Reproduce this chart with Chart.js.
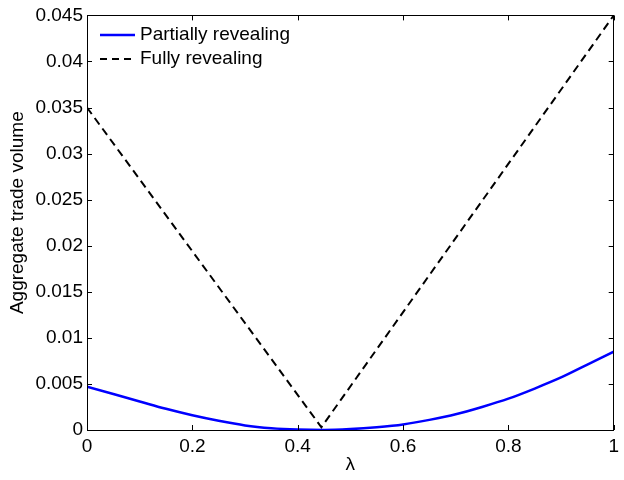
<!DOCTYPE html>
<html>
<head>
<meta charset="utf-8">
<script src="https://cdn.jsdelivr.net/npm/chart.js@4"></script>
<style>
  html, body { margin: 0; padding: 0; background: #fff; }
  #wrap { width: 624px; height: 480px; }
</style>
</head>
<body>
<div id="wrap"><canvas id="chart" width="624" height="480"></canvas></div>
<script>
// Data
const partialX = [0, 0.05, 0.1, 0.15, 0.2, 0.25, 0.3, 0.35, 0.4, 0.45, 0.5, 0.55, 0.6, 0.65, 0.7, 0.75, 0.8, 0.85, 0.9, 0.95, 1];
const partialY = [0.0047, 0.0039, 0.0031, 0.0023, 0.0016, 0.0010, 0.0005, 0.0002, 0.00005, 0, 0.0001, 0.0003, 0.0006, 0.0011, 0.0017, 0.0025, 0.0034, 0.0045, 0.0057, 0.0071, 0.0085];
const fullX = [0, 0.445, 1];
const fullY = [0.035, 0.0003, 0.045];
const seriesLabels = ['Partially revealing', 'Fully revealing'];
const xTicks = [0, 0.2, 0.4, 0.6, 0.8, 1];
const yTicks = [0, 0.005, 0.01, 0.015, 0.02, 0.025, 0.03, 0.035, 0.04, 0.045];
const xTitle = 'λ';
const yTitle = 'Aggregate trade volume';

const FONT = 'Liberation Sans, Arial, Helvetica, sans-serif';

function toPoints(xs, ys) {
    return xs.map((x, i) => ({ x: x, y: ys[i] }));
}

// Box, inward ticks on all four sides, y title and an in-plot legend (MATLAB style)
const matlabAxes = {
    id: 'matlabAxes',
    afterDraw(chart) {
        const { ctx, chartArea: a, scales } = chart;
        const len = 5;
        ctx.save();
        ctx.strokeStyle = '#000';
        ctx.lineWidth = 1;
        ctx.beginPath();
        xTicks.forEach(v => {
            const px = Math.round(scales.x.getPixelForValue(v)) + 0.5;
            ctx.moveTo(px, a.bottom); ctx.lineTo(px, a.bottom - len);
            ctx.moveTo(px, a.top); ctx.lineTo(px, a.top + len);
        });
        yTicks.forEach(v => {
            const py = Math.round(scales.y.getPixelForValue(v)) + 0.5;
            ctx.moveTo(a.left, py); ctx.lineTo(a.left + len, py);
            ctx.moveTo(a.right, py); ctx.lineTo(a.right - len, py);
        });
        ctx.stroke();
        ctx.strokeRect(Math.round(a.left) + 0.5, Math.round(a.top) + 0.5,
            Math.round(a.right - a.left) - 1, Math.round(a.bottom - a.top));

        // y axis title
        ctx.font = '19px ' + FONT;
        ctx.fillStyle = '#000';
        ctx.textAlign = 'center';
        ctx.textBaseline = 'middle';
        ctx.save();
        ctx.translate(18, (a.top + a.bottom) / 2 - 10);
        ctx.rotate(-Math.PI / 2);
        ctx.fillText(yTitle, 0, 0);
        ctx.restore();

        // legend
        const ds = chart.data.datasets;
        ctx.textAlign = 'left';
        ds.forEach((d, i) => {
            const y = a.top + 19.5 + i * 24;
            ctx.beginPath();
            ctx.strokeStyle = d.borderColor;
            ctx.lineWidth = d.borderWidth;
            ctx.setLineDash(i === 1 ? [7, 5] : []);
            ctx.moveTo(a.left + 13, y);
            ctx.lineTo(a.left + 48, y);
            ctx.stroke();
            ctx.setLineDash([]);
            ctx.fillText(d.label, a.left + 53, y);
        });
        ctx.restore();
    }
};

new Chart(document.getElementById('chart'), {
    type: 'line',
    data: {
        datasets: [{
            label: seriesLabels[0],
            data: toPoints(partialX, partialY),
            borderColor: '#0000ff',
            borderWidth: 2.5,
            pointRadius: 0,
            cubicInterpolationMode: 'monotone',
            fill: false
        }, {
            label: seriesLabels[1],
            data: toPoints(fullX, fullY),
            borderColor: '#000000',
            borderWidth: 2,
            borderDash: [8, 5],
            pointRadius: 0,
            tension: 0,
            fill: false
        }]
    },
    options: {
        responsive: false,
        animation: false,
        layout: { padding: { top: 8, right: 2, left: 0, bottom: 0 } },
        plugins: { legend: { display: false }, tooltip: { enabled: false } },
        scales: {
            x: {
                type: 'linear',
                min: 0, max: 1,
                afterBuildTicks: s => { s.ticks = xTicks.map(v => ({ value: v })); },
                afterFit: s => { s.height = 50; },
                grid: { display: false, drawTicks: false },
                border: { display: false },
                ticks: {
                    padding: 5,
                    color: '#000',
                    font: { family: FONT, size: 19 },
                    maxRotation: 0,
                    callback: v => String(+v.toFixed(1))
                },
                title: {
                    display: true,
                    text: xTitle,
                    color: '#000',
                    font: { family: FONT, size: 19 },
                    padding: { top: 0, bottom: 4 }
                }
            },
            y: {
                type: 'linear',
                min: 0, max: 0.045,
                afterBuildTicks: s => { s.ticks = yTicks.map(v => ({ value: v })); },
                afterFit: s => { s.width = 87; },
                grid: { display: false, drawTicks: false },
                border: { display: false },
                ticks: {
                    padding: 4,
                    color: '#000',
                    font: { family: FONT, size: 19 },
                    callback: v => String(+v.toFixed(3))
                }
            }
        }
    },
    plugins: [matlabAxes]
});
</script>
</body>
</html>
